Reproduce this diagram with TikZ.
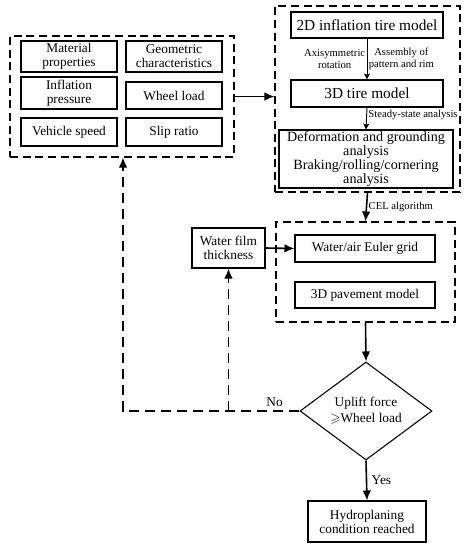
\documentclass[tikz,border=0pt]{standalone}
\usepackage{amssymb}
\usepackage{fontspec}
\setmainfont{Liberation Serif}
\usetikzlibrary{arrows.meta,shapes.geometric,positioning}

\begin{document}
\begin{tikzpicture}[x=0.75pt, y=-0.75pt]
\tikzset{
	    mybox/.style={rectangle, draw=black, thick, align=center, inner sep=1pt, font=\fontsize{10}{10.5}\selectfont},
	    mygroup/.style={rectangle, draw=black, thick, dashed, dash pattern=on 6pt off 3.5pt, inner sep=0pt},
	    mydecision/.style={diamond, draw=black, thick, align=center, aspect=1.347, inner sep=0pt, minimum width=99pt, minimum height=73.5pt, font=\fontsize{10}{12}\selectfont},
	    myarrow/.style={->, >={Latex[length=7.5pt, width=6.5pt]}, line width=1.2pt},
	    mythin/.style={->, >={Stealth[length=4.5pt, width=4.5pt, inset=1pt]}, line width=0.7pt},
	    mydash/.style={->, >={Latex[length=7.5pt, width=6.5pt]}, line width=1.2pt, dash pattern=on 7.5pt off 4.5pt},
	    mylabel/.style={font=\fontsize{8}{9}\selectfont, align=center, inner sep=1pt}
	}
	\useasboundingbox (0,0) rectangle (464,550);

	% input parameters
	\node[mygroup, minimum width=168pt, minimum height=90.75pt] (inputs) at (122,96.5) {};
	\node[mybox, minimum width=72pt, minimum height=23.25pt] (material) at (69,56.5) {Material\\properties};
	\node[mybox, minimum width=72pt, minimum height=23.25pt] (geometry) at (174,56.5) {Geometric\\characteristics};
	\node[mybox, minimum width=72pt, minimum height=24pt] (pressure) at (69,93) {Inflation\\pressure};
	\node[mybox, minimum width=72pt, minimum height=20.25pt] (wheelload) at (174,95.5) {Wheel load};
	\node[mybox, minimum width=72pt, minimum height=21pt] (speed) at (69,132) {Vehicle speed};
	\node[mybox, minimum width=72pt, minimum height=21pt] (slip) at (174,132) {Slip ratio};

	% tire model
	\node[mygroup, minimum width=138.75pt, minimum height=139.5pt] (tire) at (367.5,99) {};
	\node[mybox, minimum width=114pt, minimum height=19.5pt, font=\fontsize{11.5}{12}\selectfont] (tire2d) at (367,25) {2D inflation tire model};
	\node[mybox, minimum width=114pt, minimum height=20.25pt, font=\fontsize{11.5}{12}\selectfont] (tire3d) at (367,93.5) {3D tire model};
	\node[mybox, minimum width=130.5pt, minimum height=43.5pt, inner sep=0pt, font=\fontsize{10.6}{10.4}\selectfont] (deform) at (366,159) {Deformation and grounding\\analysis\\Braking/rolling/cornering\\analysis};

	% fluid and pavement
	\node[mygroup, minimum width=134.25pt, minimum height=75pt] (fluid) at (365.5,272) {};
	\node[mybox, minimum width=105pt, minimum height=20.25pt] (euler) at (365,248.5) {Water/air Euler grid};
	\node[mybox, minimum width=105pt, minimum height=19.5pt] (pavement) at (365,295) {3D pavement model};
	\node[mybox, minimum width=54.75pt, minimum height=30pt] (film) at (228.5,248) {Water film\\thickness};

	% check and result
	\node[mydecision] (check) at (366,411) {Uplift force\\$\geqslant$Wheel load};
	\node[mybox, minimum width=88.5pt, minimum height=30.75pt] (result) at (367,521.5) {Hydroplaning\\condition reached};

	\coordinate (loopcorner) at (123,411);
	\coordinate (loopsplit) at (228.5,411);

	\draw[myarrow] (inputs.east) -- (inputs.east -| tire.west);
	\draw[mythin] (tire2d.south) -- (tire3d.north)
	    node[mylabel, midway, left] {Axisymmetric\\rotation}
	    node[mylabel, midway, right] {Assembly of\\pattern and rim};
	\draw[mythin] (tire3d.south) -- (deform.north)
	    node[mylabel, pos=0.35, right] {Steady-state analysis};
	\draw[myarrow] (tire.south) -- (fluid.north)
	    node[mylabel, midway, right] {CEL algorithm};
	\draw[myarrow] (film.east) -- (euler.west);
	\draw[myarrow] (fluid.south) -- (check.north);
	\draw[myarrow] (check.south) -- (result.north)
	    node[midway, right, font=\fontsize{10}{12}\selectfont] {Yes};
	\draw[mydash] (check.west) -- (loopcorner) -- (loopcorner |- inputs.south);
	\draw[mydash] (loopsplit) -- (film.south);
	\node[font=\fontsize{10}{12}\selectfont, above left=0pt and 9pt of check.west] (nolabel) {No};

\end{tikzpicture}
\end{document}
